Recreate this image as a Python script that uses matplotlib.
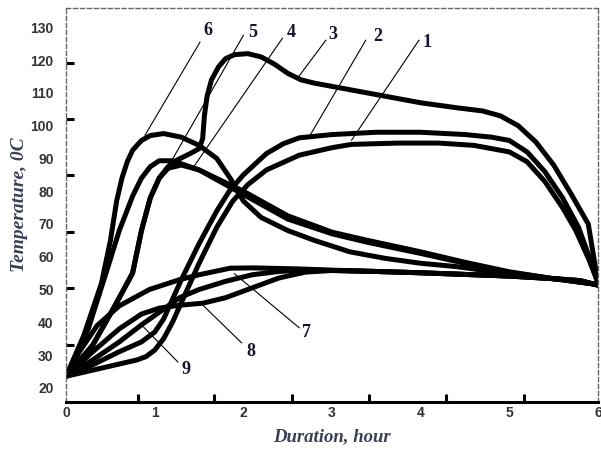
import matplotlib
matplotlib.use("Agg")
import matplotlib.pyplot as plt

# ========== Data ==========
hours_1 = [0, 0.4, 0.8, 0.9, 1.0, 1.1, 1.2, 1.3, 1.5, 1.7, 1.88, 2.05, 2.26, 2.63, 3.0, 3.22, 3.75, 4.2, 4.6, 5.0, 5.2, 5.4, 5.6, 5.75, 5.9, 6.0]
temp_1 = [23.5, 26, 28.5, 29.5, 31.5, 35, 40, 46, 58, 69, 77, 82, 86.5, 91, 93.3, 94.3, 94.7, 94.7, 94, 92, 89, 83, 75, 68, 59, 52]

hours_2 = [0, 0.3, 0.6, 0.85, 1.0, 1.1, 1.3, 1.5, 1.7, 1.84, 2.0, 2.26, 2.45, 2.63, 3.0, 3.5, 4.0, 4.5, 4.8, 5.0, 5.2, 5.4, 5.6, 5.78, 5.9, 6.0]
temp_2 = [23.5, 27, 31, 34, 37, 41, 53, 64, 74, 80, 85, 91.5, 94.5, 96.3, 97.3, 98, 98, 97.3, 96.5, 95.5, 92, 86, 78, 69, 60, 52]

hours_3 = [0, 0.3, 0.55, 0.75, 0.85, 0.95, 1.05, 1.15, 1.25, 1.4, 1.5, 1.54, 1.56, 1.59, 1.64, 1.72, 1.8, 1.9, 2.05, 2.2, 2.35, 2.5, 2.65, 2.8, 3.0, 3.3, 3.6, 4.0, 4.4, 4.7, 4.9, 5.1, 5.3, 5.5, 5.7, 5.89, 6.0]
temp_3 = [23.5, 33, 45, 55, 68, 78, 84, 87.5, 89.5, 91.5, 93, 96, 103, 109, 114, 118, 120.5, 121.7, 122, 121, 118.8, 116, 114, 113, 112, 110.5, 109, 107, 105.5, 104.5, 103, 100, 95, 88, 79, 70, 52]

hours_4 = [0, 0.3, 0.55, 0.75, 0.85, 0.95, 1.05, 1.15, 1.3, 1.5, 2.0, 2.5, 3.0, 3.4, 4.0, 4.5, 5.0, 5.5, 6.0]
temp_4 = [23.5, 33, 45, 55, 68, 78, 84, 87, 88, 86.5, 80, 72.5, 67.5, 65, 61.5, 58.3, 55.4, 53.3, 51.5]

hours_5 = [0, 0.25, 0.45, 0.6, 0.75, 0.85, 0.95, 1.05, 1.2, 1.5, 2.0, 2.5, 3.0, 3.4, 4.0, 4.5, 5.0, 5.5, 6.0]
temp_5 = [23.5, 38, 55, 68, 78.5, 84, 87.5, 89.3, 89.3, 86.5, 79, 71.5, 67, 64.4, 61, 58, 55.2, 53.3, 51.5]

hours_6 = [0, 0.2, 0.4, 0.5, 0.57, 0.63, 0.69, 0.75, 0.85, 0.95, 1.1, 1.3, 1.5, 1.7, 1.85, 2.0, 2.2, 2.5, 2.8, 3.2, 3.6, 4.0, 4.4, 4.8, 5.2, 5.6, 6.0]
temp_6 = [23.5, 36, 52, 65, 77, 84, 89, 92.5, 95.5, 97, 97.6, 96.5, 94, 90, 84, 77, 72, 68, 65, 61.5, 59.5, 58, 57, 55.5, 54, 53, 51.5]

hours_7 = [0, 0.15, 0.35, 0.6, 0.94, 1.28, 1.5, 1.85, 2.1, 2.6, 3.0, 3.5, 4.0, 4.5, 5.0, 5.5, 5.8, 6.0]
temp_7 = [23.5, 31, 39, 45, 50, 53, 54.5, 56.5, 56.6, 56.3, 55.9, 55.5, 55.1, 54.6, 54.1, 53.3, 52.7, 51.3]

hours_8 = [0, 0.3, 0.6, 0.85, 1.05, 1.28, 1.54, 1.8, 2.1, 2.4, 2.7, 3.0, 3.5, 4.0, 4.5, 5.0, 5.5, 5.8, 6.0]
temp_8 = [23.5, 31, 38, 42.5, 44.3, 45.2, 45.8, 47.5, 50.5, 53.5, 55.3, 55.8, 55.5, 55.1, 54.6, 54.1, 53.3, 52.7, 51.3]

hours_9 = [0, 0.3, 0.6, 0.85, 1.1, 1.28, 1.5, 1.8, 2.1, 2.4, 2.7, 3.0, 3.5, 4.0, 4.5, 5.0, 5.5, 5.8, 6.0]
temp_9 = [23.5, 28.5, 34, 39.2, 44, 47.5, 50, 52.5, 54.5, 55.5, 56, 55.8, 55.5, 55.1, 54.6, 54.1, 53.3, 52.7, 51.3]

x_ticks = [0, 1, 2, 3, 4, 5, 6]
y_ticks = [20, 30, 40, 50, 60, 70, 80, 90, 100, 110, 120, 130]
x_marks = [0.81, 1.67, 2.55, 3.42, 4.29, 5.17]
y_marks = [33.1, 50.5, 67.6, 84.9, 102.0, 119.1]

# curve label: (text position, leader start, leader end)
labels = {
    "1": ((4.07, 125.5), (3.98, 126.1), (3.22, 95.6)),
    "2": ((3.51, 127.3), (3.38, 126.1), (2.74, 96.5)),
    "3": ((3.01, 127.9), (2.93, 126.1), (2.61, 114.5)),
    "4": ((2.54, 128.5), (2.44, 126.7), (1.43, 87.1)),
    "5": ((2.10, 128.5), (2.00, 127.6), (1.15, 87.4)),
    "6": ((1.60, 129.1), (1.51, 125.5), (0.89, 97.1)),
    "7": ((2.71, 36.8), (2.63, 38.3), (1.90, 54.8)),
    "8": ((2.08, 31.0), (1.98, 33.7), (1.54, 45.3)),
    "9": ((1.35, 25.5), (1.26, 27.9), (0.85, 39.2)),
}

# ========== Plotting ==========
fig = plt.figure(figsize=(6.01, 4.51), dpi=100)
ax = fig.add_axes([0.110, 0.109, 0.885, 0.873])

curves = [(hours_1, temp_1), (hours_2, temp_2), (hours_3, temp_3),
          (hours_4, temp_4), (hours_5, temp_5), (hours_6, temp_6),
          (hours_7, temp_7), (hours_8, temp_8), (hours_9, temp_9)]
for hx, ty in curves:
    ax.plot(hx, ty, color="black", lw=3.6, solid_joinstyle="round",
            solid_capstyle="round")

for name, (txt, start, end) in labels.items():
    ax.plot([start[0], end[0]], [start[1], end[1]], color="black", lw=0.8)
    ax.text(txt[0], txt[1], name, ha="center", va="center", fontsize=13,
            fontweight="bold", family="Liberation Serif", color="#141432")

ax.set_xlim(0, 6)
ax.set_ylim(15.7, 135.9)
ax.set_xticks(x_ticks)
ax.set_yticks(y_ticks)
ax.set_xticks(x_marks, minor=True)
ax.set_yticks(y_marks, minor=True)
ax.tick_params(which="major", length=0, labelsize=10, colors="#333333")
ax.tick_params(axis="x", which="major", pad=3)
ax.tick_params(axis="y", which="major", pad=9)
ax.tick_params(which="minor", direction="in", length=6, width=2.2, color="black")
for lab in ax.get_xticklabels() + ax.get_yticklabels():
    lab.set_fontweight("bold")
    lab.set_family("Liberation Sans")

ax.spines["bottom"].set_linewidth(2.2)
for side in ["top", "left", "right"]:
    ax.spines[side].set_linestyle((0, (3, 2)))
    ax.spines[side].set_color("#666666")
    ax.spines[side].set_linewidth(1.0)

ax.set_xlabel("Duration, hour", fontsize=13.5, fontstyle="italic", fontweight="bold",
              family="Liberation Serif", color="#3a3f5a", labelpad=6)
ax.set_ylabel("Temperature, 0C", fontsize=14, fontstyle="italic", fontweight="bold",
              family="Liberation Serif", color="#3a3f5a", labelpad=2)

fig.savefig("out.png", dpi=100)
